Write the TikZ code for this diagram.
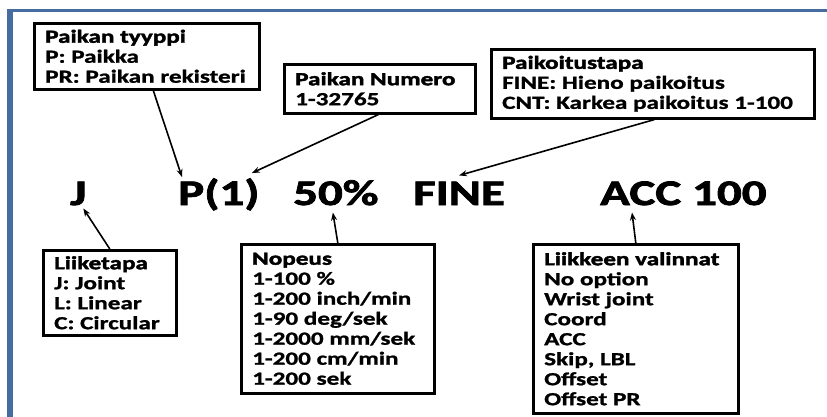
\documentclass[tikz,border=0pt]{standalone}
\usepackage{fontspec}
\setmainfont{Carlito}[FakeStretch=1.36, BoldFeatures={FakeBold=1.2}]
\newfontfamily\hvy{Carlito Bold}[FakeStretch=1.36, FakeBold=2.2]
\usetikzlibrary{arrows.meta}
\definecolor{frameblue}{RGB}{70,108,160}
\begin{document}
\begin{tikzpicture}[x=1pt,y=-1pt,
  box/.style={draw=black, line width=2.6pt, anchor=north west, inner sep=0pt},
  txt/.style={align=left, anchor=west, inner sep=0pt, font=\fontsize{18.5}{20}\selectfont\bfseries},
  big/.style={inner sep=0pt, anchor=base west, font=\fontsize{36}{40}\selectfont\hvy},
  arr/.style={line width=1.6pt, -{Stealth[length=8pt,width=6pt]}}]
\useasboundingbox (0,0) rectangle (827,417);
\fill[white] (0,0) rectangle (827,417);
% frame
\fill[frameblue] (7,9) rectangle (827,12.5);
\fill[frameblue] (7,9) rectangle (12.5,417);

% boxes
\node[box, minimum width=225pt, minimum height=66pt] (A) at (33,22) {};
\node[txt] (At) at ([xshift=12pt]A.west) {{\hvy Paikan tyyppi}\\P: Paikka\\PR: Paikan rekisteri};
\node[box, minimum width=191pt, minimum height=49pt] (B) at (283,63) {};
\node[txt] (Bt) at ([xshift=12pt]B.west) {{\hvy Paikan Numero}\\1-32765};
\node[box, minimum width=323pt, minimum height=69pt] (C) at (490,48) {};
\node[txt] (Ct) at ([xshift=12pt]C.west) {{\hvy Paikoitustapa}\\FINE: Hieno paikoitus\\CNT: Karkea paikoitus 1-100};
\node[box, minimum width=133pt, minimum height=85pt] (D) at (42,249) {};
\node[txt] (Dt) at ([xshift=12pt]D.west) {{\hvy Liiketapa}\\J: Joint\\L: Linear\\C: Circular};
\node[box, minimum width=193pt, minimum height=149pt] (E) at (240,243) {};
\node[txt] (Et) at ([xshift=12pt]E.west) {{\hvy Nopeus}\\1-100 \%\\1-200 inch/min\\1-90 deg/sek\\1-2000 mm/sek\\1-200 cm/min\\1-200 sek};
\node[box, minimum width=205pt, minimum height=169pt] (F) at (532,243) {};
\node[txt] (Ft) at ([xshift=12pt]F.west) {{\hvy Liikkeen valinnat}\\No option\\Wrist joint\\Coord\\ACC\\Skip, LBL\\Offset\\Offset PR};

% main instruction
\node[big] (J) at (70,205) {J};
\node[big] (P) at (178,205) {P(1)};
\node[big] (S) at (293,205) {50\%};
\node[big] (N) at (413,205) {FINE};
\node[big] (K) at (600,205) {ACC 100};

% arrows
\draw[arr] ([xshift=6.5pt]A.south) -- ([xshift=4pt,yshift=1pt]P.north west);
\draw[arr] ([xshift=-1.5pt]B.south) -- ([xshift=-8pt,yshift=5pt]P.north east);
\draw[arr] ([xshift=1.5pt]C.south) -- ([xshift=0pt,yshift=6pt]N.north);
\draw[arr] (D.north) -- ([xshift=5pt,yshift=-3pt]J.south);
\draw[arr] (E.north) -- ([xshift=-3pt,yshift=-7pt]S.south);
\draw[arr] (F.north) -- ([xshift=32pt,yshift=-7pt]K.south west);
\end{tikzpicture}
\end{document}
